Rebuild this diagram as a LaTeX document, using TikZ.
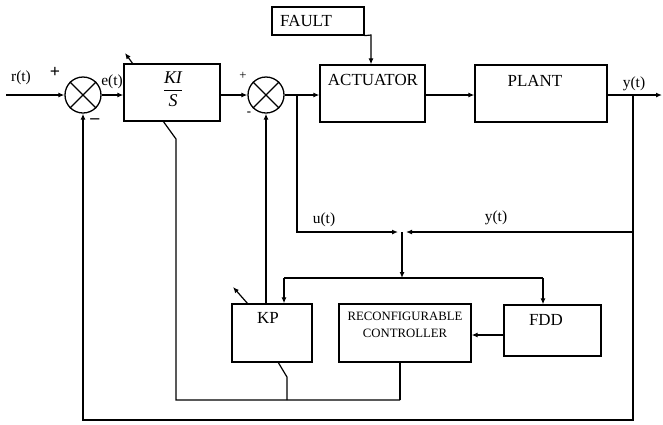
\documentclass[tikz,border=0pt]{standalone}
\usepackage{fontspec}
\setmainfont{Liberation Serif}
\usetikzlibrary{arrows.meta}
\begin{document}
\begin{tikzpicture}[x=1bp,y=-1bp,
  line width=1.2bp,
  every node/.style={font=\fontsize{15.5}{17}\selectfont, inner sep=0pt},
  blk/.style={draw, rectangle, line width=1.3bp},
  btxt/.style={font=\fontsize{17}{19}\selectfont},
  sumc/.style={draw, circle, minimum size=36bp, line width=1.3bp},
  arr/.style={-{Latex[length=6bp,width=5bp]}},
  small/.style={font=\fontsize{12.8}{14}\selectfont}]
\path[use as bounding box] (0,0) rectangle (663,424);

% blocks
\node[sumc] (s1) at (83,95) {};
\draw (s1.north west) -- (s1.south east) (s1.north east) -- (s1.south west);
\node[sumc] (s2) at (266,95) {};
\draw (s2.north west) -- (s2.south east) (s2.north east) -- (s2.south west);
\node[blk, minimum width=96bp, minimum height=57bp] (ki) at (172,92.5) {};
\node[font=\fontsize{18}{20}\selectfont] (kit) at (173,89) {$\displaystyle\frac{\textit{KI}}{\textit{S}}$};
\node[blk, minimum width=92bp, minimum height=28bp] (fault) at (318,21) {};
\node[btxt] (faultt) at (306,21) {FAULT};
\node[blk, minimum width=105bp, minimum height=57bp] (act) at (372.5,93.5) {};
\node[btxt] (actt) at (373,80) {ACTUATOR};
\node[blk, minimum width=132bp, minimum height=57bp] (plant) at (541,93.5) {};
\node[btxt] (plantt) at (535,81) {PLANT};
\node[blk, minimum width=80bp, minimum height=58bp] (kp) at (272,333) {};
\node[btxt] (kpt) at (268,318) {KP};
\node[blk, minimum width=132bp, minimum height=58bp] (rc) at (405,333) {};
\node[small] (rct1) at (405,316) {RECONFIGURABLE};
\node[small] (rct2) at (405,333) {CONTROLLER};
\node[blk, minimum width=97bp, minimum height=51bp] (fdd) at (552.5,330.5) {};
\node[btxt] (fddt) at (546,320) {FDD};

% coordinates
\coordinate (in) at (6,95);
\coordinate (out) at (662,95);
\coordinate (yb) at (633,95);
\coordinate (yb2) at (633,232);
\coordinate (fbr) at (633,420);
\coordinate (fbl) at (83,420);
\coordinate (ub) at (297,95);
\coordinate (ub2) at (297,232);
\coordinate (j) at (402,232);
\coordinate (j2) at (402,278);
\coordinate (hl) at (284,278);
\coordinate (hr) at (543,278);
\coordinate (fk) at (371,35);

% main path
\draw[arr] (in) -- (s1.west);
\draw[arr] (s1.east) -- (s1.east -| ki.west);
\draw[arr] (ki.east |- s2) -- (s2.west);
\draw[arr] (s2.east) -- (s2.east -| act.west);
\draw[arr] (act.east |- s2) -- (s2 -| plant.west);
\draw[arr] (plant.east |- s2) -- (out);
\draw[arr] (fault.south east) -- (fk) -- (fk |- act.north);

% feedback
\draw[arr] (yb) -- (fbr) -- (fbl) -- (s1.south);
\draw[arr] (ub) -- (ub2) -- ([xshift=-4bp]j);
\draw[arr] (yb2) -- ([xshift=4bp]j);
\draw[arr] (j) -- (j2);
\draw (hl) -- (hr);
\draw[arr] (hl) -- (hl |- kp.north);
\draw[arr] (hr) -- (hr |- fdd.north);
\draw[arr] (kp.north -| s2) -- (s2.south);
\draw[arr] (fdd.west |- 0,335) -- (rc.east |- 0,335);

% parameter links
\draw (163,121) -- (176,139) -- (176,400) -- (400,400);
\draw (278,362) -- (287,377) -- (287,400);
\draw (rc.south -| 400,0) -- (400,400);
\draw[arr] (133,64) -- (125,53);
\draw[arr] (248,304) -- (233,287);

% labels
\node (lr) at (21,78) {r(t)};
\node (lp1) at (55,72) {\fontsize{18}{18}\selectfont\textbf{+}};
\node (le) at (112,82) {e(t)};
\node (lm1) at (95,121) {\fontsize{18}{18}\selectfont\textbf{–}};
\node[small] (lp2) at (243,76) {+};
\node[small] (lm2) at (249,114) {\textbf{-}};
\node (ly1) at (634,84) {y(t)};
\node (lu) at (324,220) {u(t)};
\node (ly2) at (496,218) {y(t)};
\end{tikzpicture}
\end{document}
